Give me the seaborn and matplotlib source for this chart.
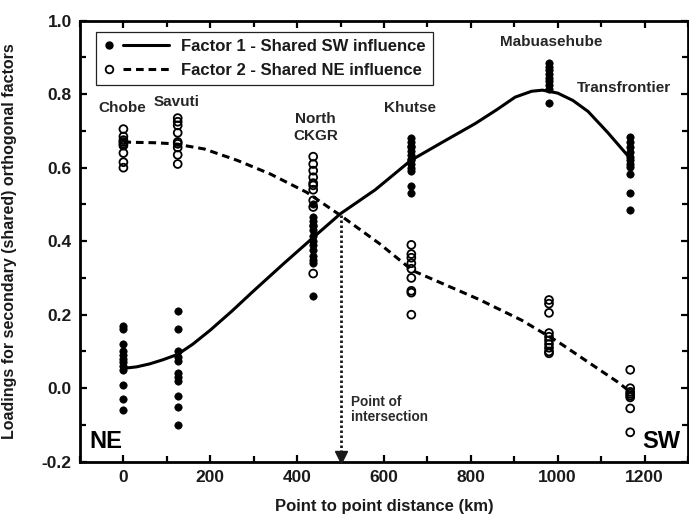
import pandas as pd
import numpy as np
import matplotlib
matplotlib.use("Agg")
import matplotlib.pyplot as plt
import seaborn as sns
from matplotlib.lines import Line2D
from matplotlib.legend_handler import HandlerBase
from matplotlib.ticker import MultipleLocator, FormatStrFormatter

# --- DATA ---
site_names = ["Chobe", "Savuti", "North\nCKGR", "Khutse", "Mabuasehube", "Transfrontier"]
site_km = [0, 125, 437, 663, 980, 1167]

# Factor 1 loadings (filled dots) per site
chobe_f1 = [0.17, 0.16, 0.12, 0.10, 0.09, 0.08, 0.07, 0.06, 0.05, 0.01, -0.03, -0.06]
savuti_f1 = [0.21, 0.16, 0.10, 0.085, 0.075, 0.04, 0.03, 0.02, -0.02, -0.05, -0.10]
ckgr_f1 = [0.50, 0.465, 0.455, 0.445, 0.44, 0.43, 0.415, 0.40, 0.39, 0.375, 0.36, 0.35, 0.34, 0.25]
khutse_f1 = [0.68, 0.67, 0.66, 0.655, 0.645, 0.635, 0.625, 0.62, 0.61, 0.60, 0.59, 0.55, 0.53]
mabu_f1 = [0.885, 0.875, 0.865, 0.855, 0.845, 0.835, 0.825, 0.815, 0.775]
trans_f1 = [0.683, 0.669, 0.656, 0.642, 0.629, 0.62, 0.611, 0.601, 0.583, 0.531, 0.486]

# Factor 2 loadings (open circles) per site
chobe_f2 = [0.705, 0.685, 0.675, 0.67, 0.665, 0.66, 0.64, 0.615, 0.60]
savuti_f2 = [0.735, 0.725, 0.715, 0.695, 0.67, 0.665, 0.655, 0.635, 0.61]
ckgr_f2 = [0.63, 0.61, 0.592, 0.574, 0.558, 0.552, 0.54, 0.511, 0.493, 0.312]
khutse_f2 = [0.39, 0.365, 0.355, 0.34, 0.325, 0.30, 0.265, 0.26, 0.20]
mabu_f2 = [0.24, 0.23, 0.205, 0.15, 0.14, 0.13, 0.12, 0.11, 0.10, 0.095]
trans_f2 = [0.05, 0.0, -0.01, -0.015, -0.02, -0.025, -0.055, -0.12]

# fitted curves
f1_curve_km = [0, 30, 60, 90, 125, 160, 200, 250, 300, 370, 437, 500, 580, 662, 734, 810,
               860, 902, 940, 965, 1000, 1035, 1070, 1115, 1167]
f1_curve_val = [0.054, 0.058, 0.066, 0.077, 0.092, 0.12, 0.158, 0.21, 0.265, 0.34, 0.41, 0.475,
                0.54, 0.62, 0.669, 0.72, 0.758, 0.792, 0.808, 0.811, 0.803, 0.783, 0.753, 0.696, 0.625]
f2_curve_km = [0, 25, 70, 117, 186, 262, 338, 422, 500, 590, 666, 818, 917, 1001, 1138, 1167]
f2_curve_val = [0.67, 0.669, 0.668, 0.665, 0.651, 0.62, 0.583, 0.533, 0.47, 0.393, 0.32, 0.242,
                0.185, 0.126, 0.017, -0.01]

intersect_km = 500
intersect_val = 0.47

legend_labels = ["Factor 1 - Shared SW influence", "Factor 2 - Shared NE influence"]

# --- BUILD TABLES ---
f1_groups = [chobe_f1, savuti_f1, ckgr_f1, khutse_f1, mabu_f1, trans_f1]
f2_groups = [chobe_f2, savuti_f2, ckgr_f2, khutse_f2, mabu_f2, trans_f2]
pts1 = pd.DataFrame([(km, v) for km, g in zip(site_km, f1_groups) for v in g], columns=["km", "loading"])
pts2 = pd.DataFrame([(km, v) for km, g in zip(site_km, f2_groups) for v in g], columns=["km", "loading"])
curve1 = pd.DataFrame({"km": f1_curve_km, "loading": f1_curve_val})
curve2 = pd.DataFrame({"km": f2_curve_km, "loading": f2_curve_val})

# --- PLOT ---
sns.set_theme(style="ticks")
plt.rcParams["font.family"] = ["Liberation Sans", "DejaVu Sans"]
plt.rcParams["axes.unicode_minus"] = False
ink = "#1a1a1a"

fig = plt.figure(figsize=(6.89, 5.24), dpi=100)
ax = fig.add_axes([0.1161, 0.1189, 0.8824, 0.8416])

sns.scatterplot(data=pts1, x="km", y="loading", ax=ax, s=28, color="black",
                edgecolor="black", linewidth=0.5, zorder=3)
sns.scatterplot(data=pts2, x="km", y="loading", ax=ax, s=32, facecolor="none",
                edgecolor="black", linewidth=1.3, zorder=3)
sns.lineplot(data=curve1, x="km", y="loading", ax=ax, sort=False, estimator=None,
             color="black", lw=2.2, zorder=4)
sns.lineplot(data=curve2, x="km", y="loading", ax=ax, sort=False, estimator=None,
             color="black", lw=2.2, linestyle=(0, (2.5, 1.6)), zorder=4)

# point of intersection arrow
ax.plot([intersect_km, intersect_km], [intersect_val, -0.18], color=ink, lw=2.0,
        linestyle=(0, (0.9, 0.9)), zorder=4)
ax.plot([intersect_km], [-0.188], marker="v", ms=8, color=ink, clip_on=False, zorder=5)
ax.text(intersect_km + 24, -0.058, "Point of\nintersection", fontsize=9.8, fontweight="bold",
        color="#2b2b2b", ha="left", va="center", linespacing=1.1)

# site labels
label_pos = [(-3, 0.762), (123, 0.780), (442, 0.71), (661, 0.763), (985, 0.943), (1153, 0.817)]
for name, (lx, ly) in zip(site_names, label_pos):
    ax.text(lx, ly, name, fontsize=11, fontweight="bold", color="#262626",
            ha="center", va="center", linespacing=1.25)

ax.text(-78, -0.146, "NE", fontsize=17, fontweight="bold", color="black", ha="left", va="center")
ax.text(1282, -0.146, "SW", fontsize=17, fontweight="bold", color="black", ha="right", va="center")

# axes styling
ax.set_xlim(-100, 1300)
ax.set_ylim(-0.2, 1.0)
ax.xaxis.set_major_locator(MultipleLocator(200))
ax.xaxis.set_minor_locator(MultipleLocator(100))
ax.yaxis.set_major_locator(MultipleLocator(0.2))
ax.yaxis.set_minor_locator(MultipleLocator(0.1))
ax.yaxis.set_major_formatter(FormatStrFormatter("%.1f"))
ax.tick_params(which="both", direction="in", top=True, right=True, color="black",
               width=1.6, labelsize=12.5, labelcolor=ink)
ax.tick_params(which="major", length=5, pad=6)
ax.tick_params(which="minor", length=4)
for lab in ax.get_xticklabels() + ax.get_yticklabels():
    lab.set_fontweight("bold")
for side in ["left", "bottom", "top", "right"]:
    ax.spines[side].set_linewidth(2.0)
    ax.spines[side].set_color("black")

ax.set_xlabel("Point to point distance (km)", fontsize=12, fontweight="bold", color=ink)
ax.set_ylabel("Loadings for secondary (shared) orthogonal factors", fontsize=11.5,
              fontweight="bold", color=ink)
ax.xaxis.set_label_coords(0.5, -0.085)
ax.yaxis.set_label_coords(-0.104, 0.5)


# legend: marker on the left, line sample to the right
class MarkerThenLine(HandlerBase):
    def create_artists(self, legend, orig_handle, xdescent, ydescent, width, height, fontsize, trans):
        mk, ln = orig_handle
        y = height / 2 - ydescent
        m = Line2D([-xdescent + 0.08 * width], [y], linestyle="none")
        m.update_from(mk)
        m.set_linestyle("none")
        m.set_data([-xdescent + 0.08 * width], [y])
        l = Line2D([-xdescent + 0.30 * width, -xdescent + width], [y, y])
        l.update_from(ln)
        l.set_marker("")
        l.set_data([-xdescent + 0.30 * width, -xdescent + width], [y, y])
        m.set_transform(trans)
        l.set_transform(trans)
        return [m, l]


h1 = (Line2D([], [], marker="o", ms=5, mfc="black", mec="black", linestyle="none"),
      Line2D([], [], color="black", lw=2.2))
h2 = (Line2D([], [], marker="o", ms=5.5, mfc="none", mec="black", mew=1.3, linestyle="none"),
      Line2D([], [], color="black", lw=2.2, linestyle=(0, (2.5, 1.6))))
leg = ax.legend([h1, h2], legend_labels, handler_map={tuple: MarkerThenLine()},
                loc="upper left", bbox_to_anchor=(0.026, 0.975), borderaxespad=0,
                frameon=True, fancybox=False, framealpha=1, edgecolor="#222222",
                handlelength=3.96, handletextpad=0.72, borderpad=0.45, labelspacing=0.5,
                prop={"size": 12, "weight": "bold"})
leg.get_frame().set_linewidth(0.9)
for t in leg.get_texts():
    t.set_color(ink)

fig.savefig("out.png", dpi=100)
